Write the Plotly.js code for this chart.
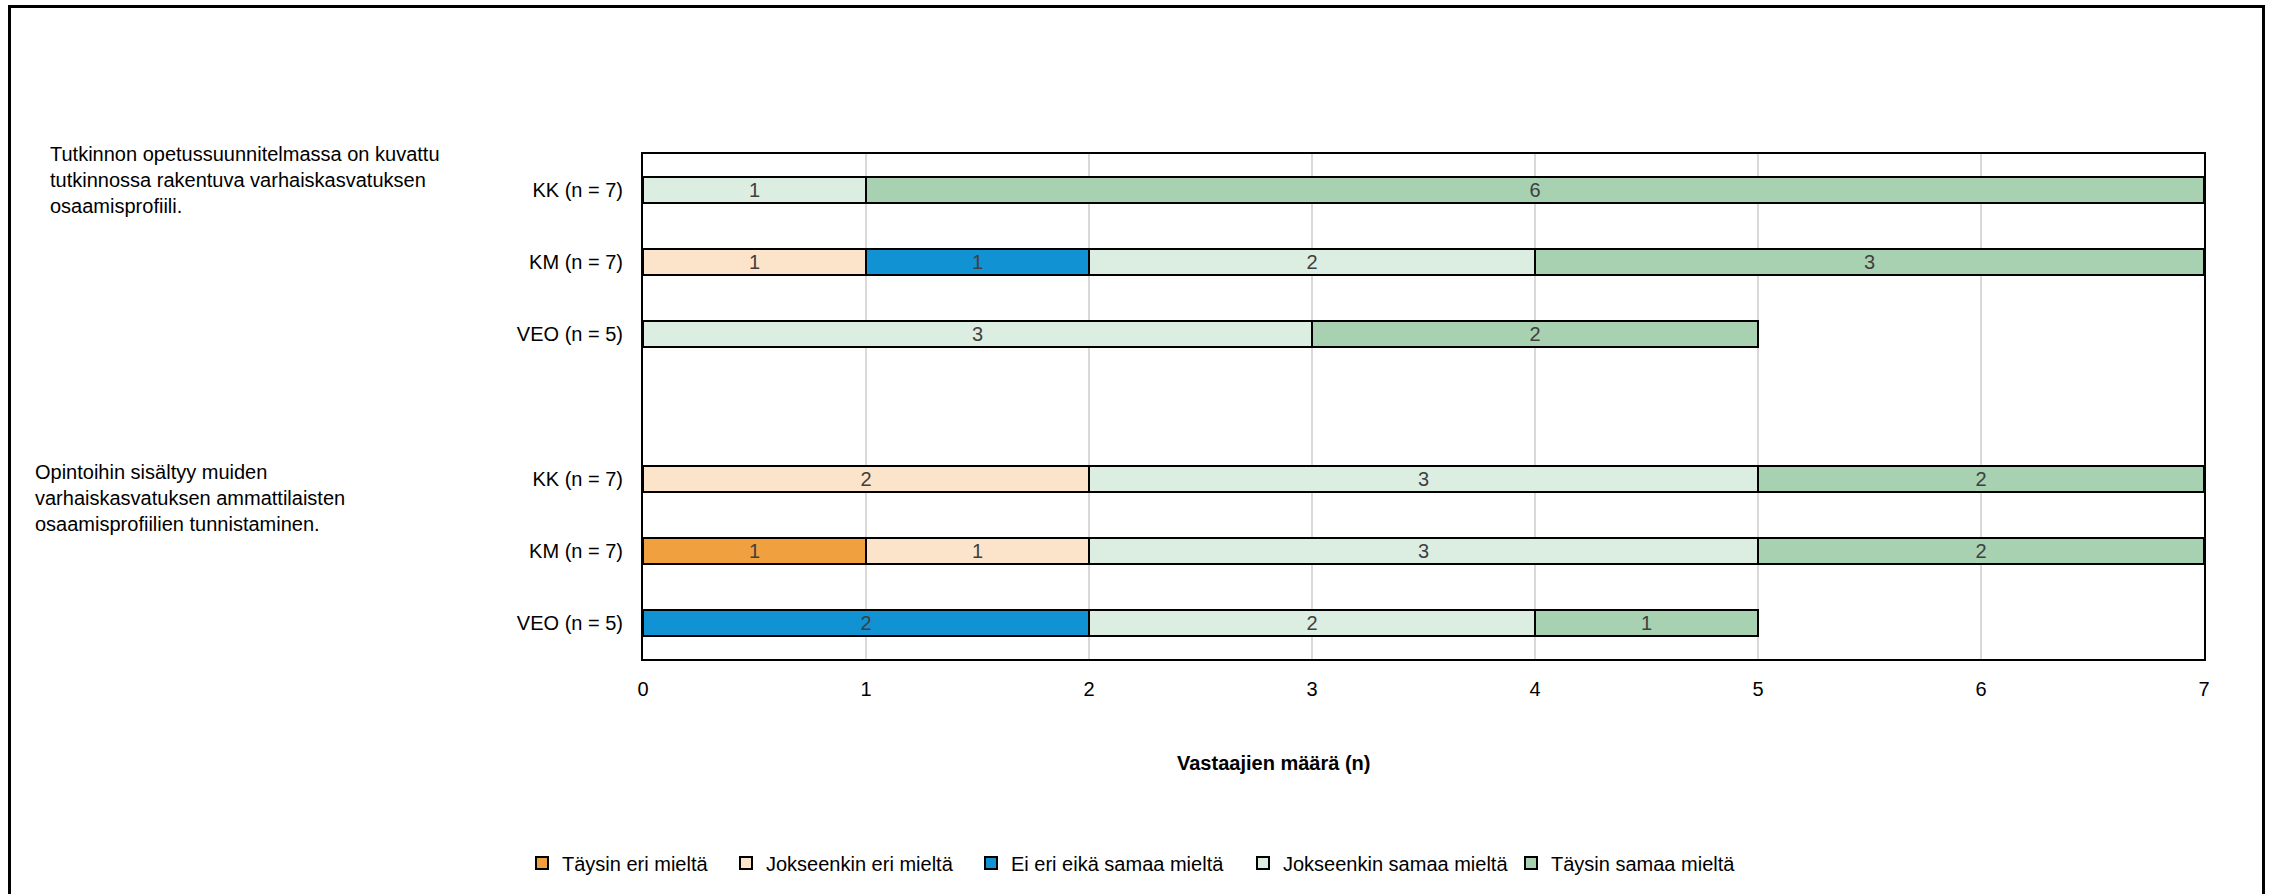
<!DOCTYPE html>
<html>
<head>
<meta charset="utf-8">
<script src="https://cdn.plot.ly/plotly-3.0.1.min.js"></script>
<style>
  html, body { margin: 0; padding: 0; background: #fff; }
  #wrap { position: relative; width: 2270px; height: 894px; overflow: hidden; }
  #chart { width: 2270px; height: 894px; }
  #frame { position: absolute; left: 8px; top: 5px; width: 2251px; height: 950px;
           border: 3px solid #000; pointer-events: none; }
</style>
</head>
<body>
<div id="wrap"><div id="chart"></div><div id="frame"></div></div>
<script>
// Row labels (top to bottom); the empty row separates the two statements
const rowLabels = ["KK (n = 7)", "KM (n = 7)", "VEO (n = 5)", "", "KK (n = 7)", "KM (n = 7)", "VEO (n = 5)"];
const statements = [
  "Tutkinnon opetussuunnitelmassa on kuvattu<br>tutkinnossa rakentuva varhaiskasvatuksen<br>osaamisprofiili.",
  "Opintoihin sisältyy muiden<br>varhaiskasvatuksen ammattilaisten<br>osaamisprofiilien tunnistaminen."
];
const seriesNames = ["Täysin eri mieltä", "Jokseenkin eri mieltä", "Ei eri eikä samaa mieltä", "Jokseenkin samaa mieltä", "Täysin samaa mieltä"];
const taysinEri       = [null, null, null, null, null, 1, null];
const jokseenkinEri   = [null, 1, null, null, 2, 1, null];
const eiEriEika       = [null, 1, null, null, null, null, 2];
const jokseenkinSamaa = [1, 2, 3, null, 3, 3, 2];
const taysinSamaa     = [6, 3, 2, null, 2, 2, 1];
const xTicks = [0, 1, 2, 3, 4, 5, 6, 7];
const xTitle = "Vastaajien määrä (n)";

const colors = ["#F0A03E", "#FCE4CA", "#1192D2", "#DCEEE2", "#A7D1B1"];
const values = [taysinEri, jokseenkinEri, eiEriEika, jokseenkinSamaa, taysinSamaa];
const FONT = '"Liberation Sans", Arial, sans-serif';
const rowPos = rowLabels.map((_, i) => i);
const legendIds = ["legend", "legend2", "legend3", "legend4", "legend5"];

const traces = values.map((v, k) => ({
  type: "bar",
  orientation: "h",
  name: seriesNames[k],
  x: v,
  y: rowPos,
  width: 0.36,
  marker: { color: colors[k], line: { color: "#000", width: 2 } },
  text: v.map(d => d == null ? "" : String(d)),
  textposition: "inside",
  insidetextanchor: "middle",
  textangle: 0,
  constraintext: "none",
  textfont: { family: FONT, size: 20, color: "#404040" },
  hoverinfo: "skip",
  legend: legendIds[k]
}));

// plot-area geometry in pixels
const L = 643, R = 2204, T = 154, B = 659;
const W = R - L, H = B - T;
const px = x => (x - L) / W;
const py = y => (B - y) / H;

const legendX = [547, 751, 996, 1268, 1536];
const legendFont = { family: FONT, size: 20, color: "#000" };
const layout = {
  width: 2270, height: 894,
  margin: { l: L, r: 2270 - R, t: T, b: 894 - B, pad: 0 },
  paper_bgcolor: "#fff", plot_bgcolor: "#fff",
  barmode: "stack",
  font: { family: FONT, size: 20, color: "#000" },
  xaxis: {
    range: [0, 7], tickvals: xTicks, ticktext: xTicks.map(String),
    showgrid: true, gridcolor: "#D9D9D9", gridwidth: 2,
    showline: true, linecolor: "#000", linewidth: 2, mirror: true,
    zeroline: false, ticks: "", ticklabelstandoff: 11,
    tickfont: { family: FONT, size: 20, color: "#000" }
  },
  yaxis: {
    range: [6.5, -0.5], tickvals: rowPos, ticktext: rowLabels,
    showgrid: false, showline: true, linecolor: "#000", linewidth: 2, mirror: true,
    zeroline: false, ticks: "", ticklabelstandoff: 14,
    tickfont: { family: FONT, size: 20, color: "#000" }
  },
  showlegend: true,
  annotations: [
    { text: statements[0], xref: "paper", yref: "paper", x: px(48), y: py(180),
      xanchor: "left", yanchor: "middle", align: "left", showarrow: false,
      font: { family: FONT, size: 20, color: "#000" } },
    { text: statements[1], xref: "paper", yref: "paper", x: px(33), y: py(498),
      xanchor: "left", yanchor: "middle", align: "left", showarrow: false,
      font: { family: FONT, size: 20, color: "#000" } },
    { text: "<b>" + xTitle + "</b>", xref: "paper", yref: "paper", x: px(1273), y: py(763),
      xanchor: "center", yanchor: "middle", showarrow: false,
      font: { family: FONT, size: 20, color: "#000" } }
  ]
};
legendIds.forEach((id, k) => {
  layout[id] = {
    x: px(legendX[k] - 25), y: py(863), xanchor: "left", yanchor: "middle",
    orientation: "h", font: legendFont, bgcolor: "rgba(0,0,0,0)",
    borderwidth: 0, tracegroupgap: 0, itemclick: false, itemdoubleclick: false
  };
});

Plotly.newPlot("chart", traces, layout, { staticPlot: true, displayModeBar: false });
</script>
</body>
</html>
